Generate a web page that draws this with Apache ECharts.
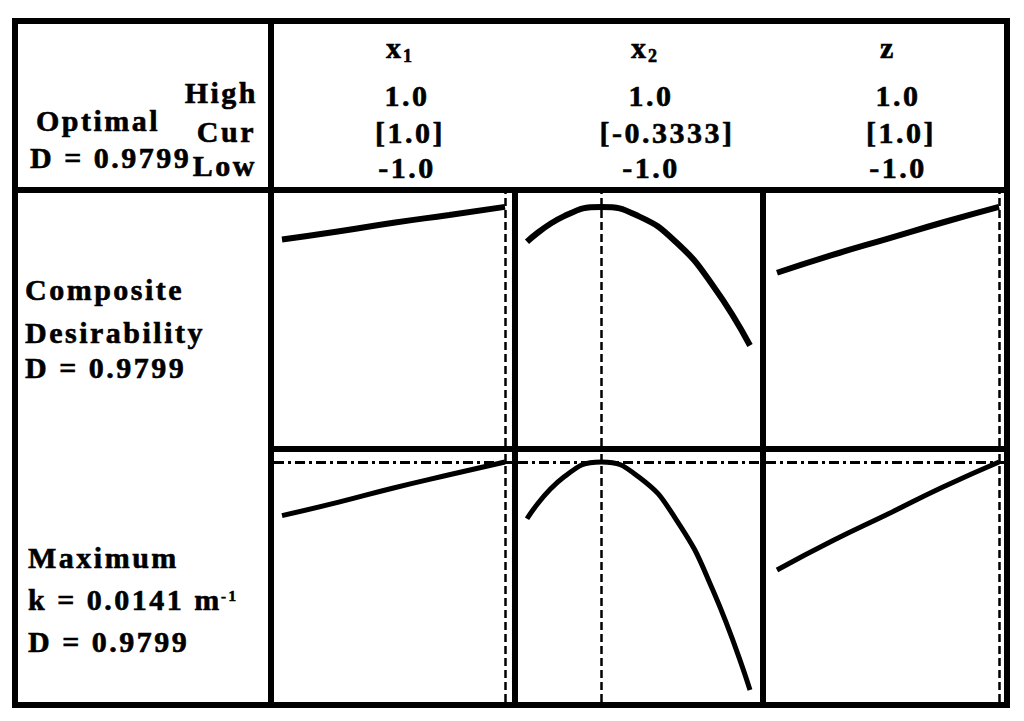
<!DOCTYPE html>
<html>
<head>
<meta charset="utf-8">
<script src="https://cdn.jsdelivr.net/npm/echarts@6/dist/echarts.min.js"></script>
<style>
  html, body { margin: 0; padding: 0; background: #fff; }
  #main { width: 1024px; height: 721px; }
  #main text { letter-spacing: 2.5px; }
</style>
</head>
<body>
<div id="main"></div>
<script>
// factor levels (coded units)
var x1Levels = [-1, -0.5, 0, 0.5, 1];
var x2Levels = [-1, -0.6667, -0.3333, 0, 0.3333, 0.6667, 1];
var zLevels = [-1, -0.5, 0, 0.5, 1];

// composite desirability along each factor
var dX1 = [0.846, 0.879, 0.915, 0.947, 0.980];
var dX2 = [0.837, 0.942, 0.980, 0.942, 0.837, 0.658, 0.412];
var dZ = [0.710, 0.783, 0.850, 0.917, 0.980];

// response k (m^-1) along each factor
var kX1 = [0.01276, 0.01309, 0.01345, 0.01378, 0.01410];
var kX2 = [0.01268, 0.01373, 0.01410, 0.01373, 0.01268, 0.01090, 0.00840];
var kZ = [0.01140, 0.01213, 0.01280, 0.01348, 0.01410];

// header
var factorNames = ['x', 'x', 'z'];
var factorSubs = ['1', '2', ''];
var highVals = ['1.0', '1.0', '1.0'];
var curVals = ['[1.0]', '[-0.3333]', '[1.0]'];
var lowVals = ['-1.0', '-1.0', '-1.0'];
var curSettings = [1, -0.3333, 1];
var kMax = 0.0141;

// layout (px)
var cols = [
  {pl: 274, pr: 512, a: 282, b: 505, name: 386, val: 407},
  {pl: 518, pr: 760, a: 527, b: 750, name: 631, val: 651},
  {pl: 766, pr: 1004, a: 777, b: 999, name: 880, val: 898}
];
var curCenters = [410, 667, 901];
var rows = [
  {pt: 193, pb: 446, pLo: 446, vLo: 0, pHi: 202, vHi: 1, width: 6},
  {pt: 452, pb: 702, pLo: 690, vLo: 0.0084, pHi: 462, vHi: 0.0141, width: 5}
];

var levels = [x1Levels, x2Levels, zLevels];
var rowData = [[dX1, dX2, dZ], [kX1, kX2, kZ]];

function ext(e1, e2, pA, pB, vA, vB) {
  var s = (vB - vA) / (pB - pA);
  return [vA + (e1 - pA) * s, vA + (e2 - pA) * s];
}

var FONT = 'bold 30px "Liberation Serif", "Times New Roman", serif';
var grids = [], xAxes = [], yAxes = [], series = [];

rows.forEach(function (r, ri) {
  cols.forEach(function (c, ci) {
    var gi = grids.length;
    grids.push({left: c.pl, top: r.pt, width: c.pr - c.pl, height: r.pb - r.pt});
    var xe = ext(c.pl, c.pr, c.a, c.b, -1, 1);
    var ye = ext(r.pb, r.pt, r.pLo, r.pHi, r.vLo, r.vHi);
    xAxes.push({type: 'value', gridIndex: gi, min: xe[0], max: xe[1], show: false});
    yAxes.push({type: 'value', gridIndex: gi, min: ye[0], max: ye[1], show: false});
    var pts = levels[ci].map(function (v, i) { return [v, rowData[ri][ci][i]]; });
    var ml = [{xAxis: curSettings[ci], lineStyle: {type: [8, 4], width: 2.5, color: '#000'}}];
    if (ri === 1) {
      ml.push({yAxis: kMax, lineStyle: {type: [10, 4, 3, 4], width: 3, color: '#000'}});
    }
    series.push({
      type: 'line', xAxisIndex: gi, yAxisIndex: gi, data: pts,
      showSymbol: false, smooth: true, silent: true,
      lineStyle: {color: '#000', width: r.width},
      markLine: {silent: true, precision: 8, symbol: ['none', 'none'], label: {show: false}, data: ml}
    });
  });
});

// table frame
var bars = [
  [12, 18, 998, 6], [12, 702, 998, 6], [12, 18, 6, 690], [1004, 18, 6, 690],
  [12, 187, 998, 6], [268, 18, 6, 690], [268, 446, 742, 6],
  [512, 187, 6, 521], [760, 187, 6, 521]
];
var graphic = bars.map(function (b) {
  return {type: 'rect', z: 100, shape: {x: b[0], y: b[1], width: b[2], height: b[3]}, style: {fill: '#000'}};
});

function txt(t, x, y, align, font) {
  graphic.push({type: 'text', z: 100, style: {
    text: t, x: x, y: y, font: font || FONT, fill: '#000', stroke: '#000', lineWidth: 0.6,
    align: align, textAlign: align, verticalAlign: 'middle', textVerticalAlign: 'middle'
  }});
}

txt('High', 258, 92, 'right');
txt('Cur', 256, 131, 'right');
txt('Low', 257, 165, 'right');
txt('Optimal', 36, 120, 'left');
txt('D = 0.9799', 30, 157, 'left');

cols.forEach(function (c, i) {
  txt(factorNames[i], c.name, 47, 'left');
  if (factorSubs[i]) txt(factorSubs[i], c.name + 17, 56, 'left', 'bold 18px "Liberation Serif", serif');
  txt(highVals[i], c.val, 95, 'center');
  txt(curVals[i], curCenters[i], 132, 'center');
  txt(lowVals[i], c.val, 167, 'center');
});

txt('Composite', 25, 289, 'left');
txt('Desirability', 25, 332, 'left');
txt('D = 0.9799', 25, 367, 'left');
txt('Maximum', 28, 557, 'left');
txt('k = 0.0141 m', 28, 599, 'left');
txt('-1', 221, 596, 'left', 'bold 15px "Liberation Serif", serif');
txt('D = 0.9799', 28, 641, 'left');

var chart = echarts.init(document.getElementById('main'), null, {renderer: 'svg'});
chart.setOption({
  animation: false,
  backgroundColor: '#fff',
  grid: grids,
  xAxis: xAxes,
  yAxis: yAxes,
  series: series,
  graphic: graphic
});
</script>
</body>
</html>
